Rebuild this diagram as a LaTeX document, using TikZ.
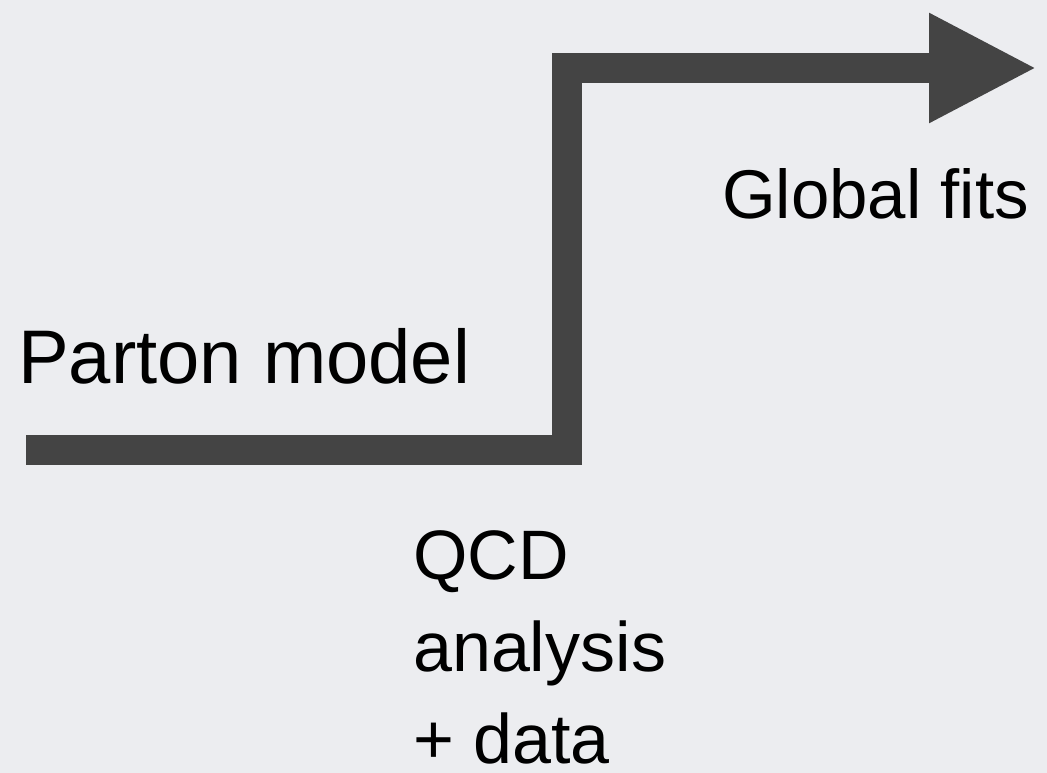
\documentclass[tikz,border=0pt]{standalone}
\usepackage{fontspec}
\setmainfont{Liberation Sans}
\usepackage{tikz}
\usetikzlibrary{arrows.meta,positioning,calc}
\definecolor{slidegray}{HTML}{ECEDF0}
\definecolor{stepgray}{HTML}{444444}
\tikzset{
  labelnode/.style={inner sep=0pt, anchor=base west, align=left, text=black},
  stepedge/.style={-{Triangle[length=108pt,width=102pt]}, line width=30pt, draw=stepgray, line join=miter}
}

\begin{document}
\begin{tikzpicture}[x=1pt, y=-1pt]
  \fill[slidegray] (0,0) rectangle (1047,773);
  \useasboundingbox (0,0) rectangle (1047,773);
  \coordinate (start) at (26,449.5);
  \coordinate (rise) at (567,449.5);
  \coordinate (tip) at (1037,68);
  \node[labelnode, font=\fontsize{76}{92}\selectfont] (parton) at (18,383) {Parton model};
  \node[labelnode, font=\fontsize{69}{92}\selectfont] (global) at (722,218) {Global fits};
  % base anchor sits on the last line
  \node[labelnode, font=\fontsize{70}{92}\selectfont] (qcd) at (413,763) {QCD\\analysis\\+ data};
  \draw[stepedge] (start) -- (rise) |- (tip);
\end{tikzpicture}
\end{document}
